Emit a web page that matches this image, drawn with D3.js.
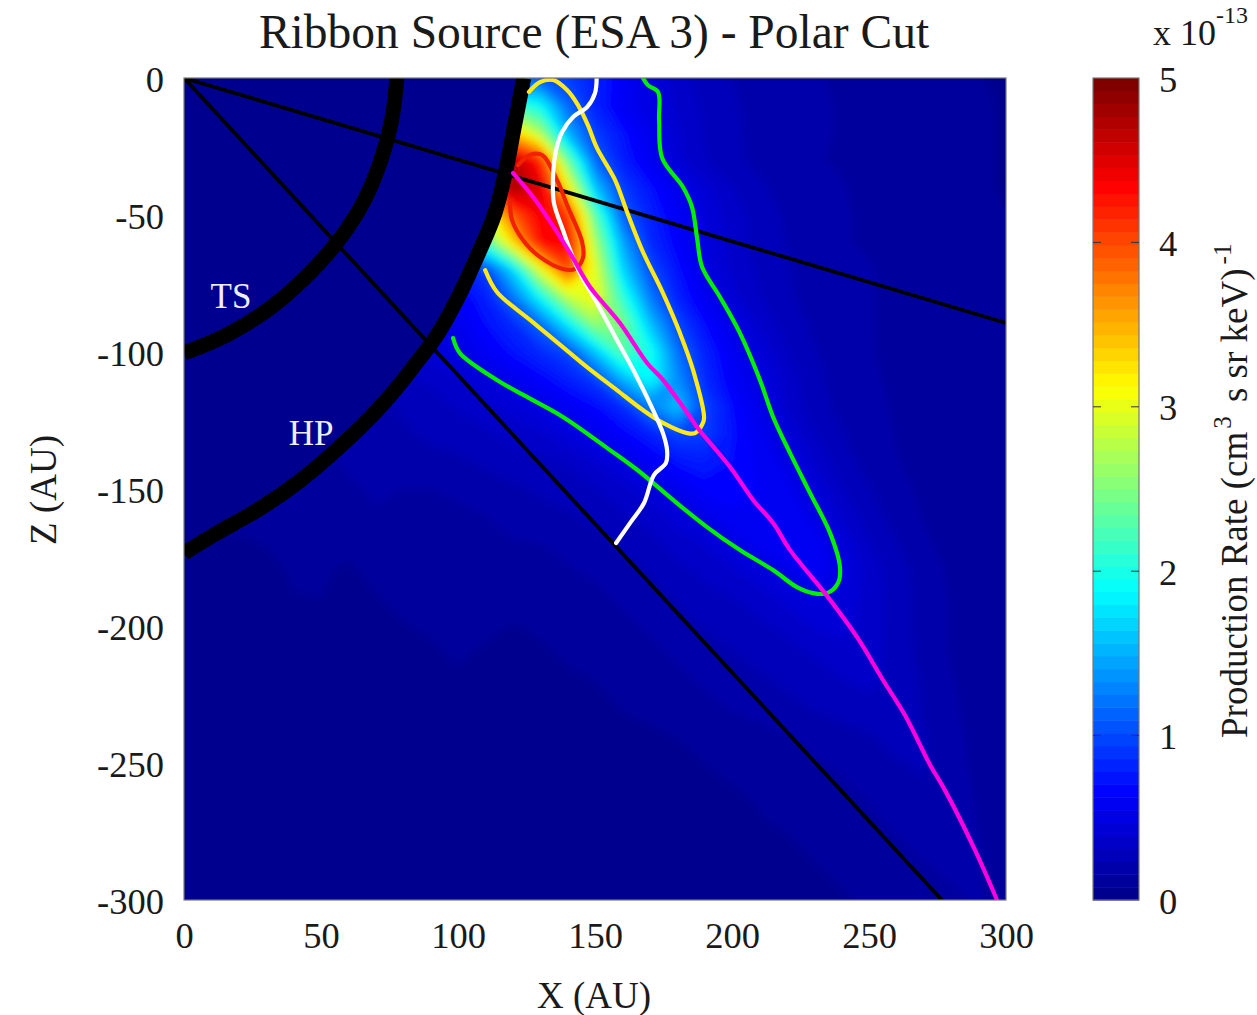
<!DOCTYPE html>
<meta charset="utf-8">
<html>
  <head>
    <title>Ribbon Source (ESA 3) - Polar Cut</title>
    <style>
      html, body { margin: 0; padding: 0; background: white; }
      svg { display: block; }
      text { font-family: "Liberation Serif", serif; fill: #1a1a1a; }
      .axis path, .axis line { display: none; }
      .axis text { font-size: 36.5px; font-family: "Liberation Serif", serif; fill: #1a1a1a; }
      .frame { fill: none; stroke: #777; stroke-width: 1.2px; }
      .trace { fill: none; stroke-linejoin: round; stroke-linecap: round; stroke-width: 4.2px; }
      .boundary { fill: none; stroke: black; stroke-width: 15px; }
      .ray { stroke: black; stroke-width: 3.8px; }
    </style>
  </head>
<body>
  <svg width="1257" height="1015"></svg>
  <script src="https://cdn.jsdelivr.net/npm/d3@7"></script>
  <script>

  // tick labels
  var xTicks = [0, 50, 100, 150, 200, 250, 300];
  var zTicks = [0, -50, -100, -150, -200, -250, -300];
  var barTicks = [0, 1, 2, 3, 4, 5];

  // production rate in 1e-13. rows z = 0,-10..-300, columns x = 0,10..300
  // (cells behind the HP are clipped away, they only hold values close to the edge)
  var prodRate = [
    [0,0,0,0,0,0,0,0,0,0,0, .5,1,1.05,.95,.8,.62,.47,.35,.28, .23,.2,.18,.16,.15,.14,.12,.11,.1,.08,.07],
    [0,0,0,0,0,0,0,0,0,0,0, .9,2.2,1.9,1.15,.8,.6,.5,.38,.3, .25,.2,.18,.17,.15,.14,.13,.12,.1,.09,.07],
    [0,0,0,0,0,0,0,0,0,0,.5, 2,3.4,2.7,1.5,.95,.72,.55,.4,.31, .25,.21,.18,.17,.15,.14,.13,.12,.1,.09,.07],
    [0,0,0,0,0,0,0,0,0,0,1, 3.5,4.7,4.2,2.4,1.15,.78,.58,.42,.32, .26,.21,.18,.16,.15,.14,.13,.12,.1,.09,.07],
    [0,0,0,0,0,0,0,0,0,.5,2.5, 4,4.8,4.5,3.2,1.6,.95,.72,.55,.42, .32,.25,.2,.17,.16,.14,.13,.12,.1,.09,.07],
    [0,0,0,0,0,0,0,0,0,1,2.2, 2.9,3.9,4.4,4.1,2.3,1.1,.8,.6,.46, .35,.28,.22,.18,.16,.15,.14,.12,.11,.09,.08],
    [0,0,0,0,0,0,0,0,.5,1.5,2, 2.2,3.3,4.3,4.4,2.7,1.45,.85,.65,.48, .36,.28,.23,.19,.16,.15,.14,.12,.11,.09,.08],
    [0,0,0,0,0,0,0,.3,.6,.7,.8, .95,1.7,3,4,3,1.7,1.03,.72,.5, .38,.3,.24,.2,.17,.16,.14,.13,.11,.09,.08],
    [0,0,0,0,0,0,.2,.35,.5,.55,.62, .78,1.2,1.9,2.8,3.1,2.1,1.25,.8,.58, .42,.32,.25,.2,.17,.16,.14,.13,.11,.09,.08],
    [0,0,0,0,0,0,.2,.3,.42,.47,.55, .7,.85,1.15,1.8,2.6,2.5,1.6,1,.7, .52,.38,.28,.22,.18,.16,.14,.13,.11,.09,.08],
    [0,0,0,0,0,0,.2,.28,.36,.42,.5, .6,.72,.85,1,1.6,2.3,2,1.2,.8, .58,.45,.32,.24,.19,.16,.14,.13,.11,.09,.08],
    [0,0,0,0,0,.15,.18,.25,.3,.33,.38, .45,.55,.65,.78,.95,1.5,1.9,1.35,.85, .62,.5,.36,.26,.2,.17,.14,.13,.11,.09,.08],
    [0,0,0,0,.12,.15,.17,.2,.25,.28,.32, .37,.42,.5,.58,.68,.85,1.25,1.6,.98, .7,.53,.38,.27,.21,.17,.15,.13,.11,.09,.08],
    [0,0,0,.1,.12,.14,.17,.19,.22,.25,.27, .3,.34,.38,.46,.55,.65,.78,.98,.95, .72,.58,.45,.32,.24,.19,.15,.13,.11,.09,.08],
    [0,0,.1,.1,.11,.13,.17,.18,.2,.21,.22, .25,.28,.3,.32,.4,.5,.6,.72,.78, .7,.6,.52,.38,.27,.2,.16,.13,.12,.1,.08],
    [0,.09,.1,.1,.11,.12,.145,.165,.155,.155,.165, .19,.22,.25,.28,.31,.36,.45,.55,.65, .68,.62,.57,.45,.32,.24,.18,.14,.12,.1,.08],
    [.08,.09,.09,.1,.105,.11,.125,.15,.14,.14,.145, .155,.18,.2,.22,.26,.3,.35,.43,.52, .6,.62,.6,.52,.38,.28,.2,.15,.13,.1,.08],
    [.06,.07,.07,.08,.095,.1,.09,.12,.125,.13,.13, .14,.15,.155,.17,.2,.25,.29,.35,.4, .5,.58,.62,.6,.45,.32,.24,.17,.13,.1,.08],
    [.05,.06,.06,.06,.085,.085,.07,.09,.105,.115,.12, .125,.13,.14,.15,.165,.2,.24,.29,.33, .38,.45,.53,.6,.5,.36,.27,.2,.14,.11,.08],
    [.04,.05,.05,.05,.075,.078,.065,.075,.09,.1,.105, .11,.115,.12,.13,.14,.165,.2,.24,.29, .31,.35,.42,.48,.45,.36,.28,.2,.15,.11,.08],
    [.04,.04,.04,.04,.05,.06,.055,.065,.075,.085,.095, .09,.075,.085,.1,.115,.14,.165,.2,.24, .28,.3,.33,.4,.42,.36,.28,.2,.15,.11,.08],
    [.03,.03,.03,.03,.04,.05,.05,.055,.06,.07,.085, .07,.065,.07,.085,.095,.115,.135,.165,.2, .23,.26,.29,.32,.36,.35,.28,.21,.15,.11,.08],
    [.03,.03,.03,.03,.03,.04,.04,.045,.05,.06,.07, .065,.06,.06,.07,.078,.095,.11,.135,.165, .19,.22,.25,.28,.31,.33,.29,.22,.16,.12,.08],
    [.02,.02,.02,.02,.02,.02,.03,.03,.04,.05,.05, .05,.05,.05,.06,.065,.08,.09,.11,.135, .16,.18,.21,.24,.27,.29,.3,.23,.17,.12,.08],
    [.02,.02,.02,.02,.02,.02,.03,.03,.03,.04,.04, .04,.04,.05,.055,.06,.065,.07,.08,.09, .11,.13,.15,.18,.2,.23,.26,.24,.18,.13,.08],
    [.02,.02,.02,.02,.02,.02,.03,.03,.03,.03,.03, .03,.03,.03,.03,.04,.05,.055,.065,.078, .09,.105,.125,.145,.17,.2,.23,.24,.19,.13,.09],
    [.02,.02,.02,.02,.02,.02,.02,.03,.03,.03,.03, .03,.03,.03,.03,.03,.04,.04,.05,.06, .075,.085,.105,.125,.14,.165,.2,.23,.2,.14,.09],
    [.02,.02,.02,.02,.02,.02,.02,.02,.02,.02,.02, .02,.02,.03,.03,.03,.03,.04,.04,.05, .06,.075,.09,.105,.125,.145,.17,.2,.2,.15,.1],
    [.01,.01,.01,.01,.01,.01,.01,.01,.01,.01,.01, .02,.02,.02,.02,.02,.03,.03,.03,.04, .05,.06,.07,.09,.105,.125,.145,.17,.19,.16,.11],
    [.01,.01,.01,.01,.01,.01,.01,.01,.01,.01,.01, .02,.02,.02,.02,.02,.02,.03,.03,.03, .04,.05,.06,.07,.09,.105,.125,.145,.165,.16,.12],
    [.01,.01,.01,.01,.01,.01,.01,.01,.01,.01,.01, .01,.01,.01,.01,.01,.02,.02,.03,.03, .03,.04,.05,.06,.07,.09,.105,.125,.145,.16,.13]
  ];

  // all curves are [x, z] in AU
  var tsCurve = [[0,-100.4],[15.6,-93.8],[31.4,-84],[43.4,-73.7],[55.7,-60.2],[65.3,-45.6],[71.5,-31],[75.8,-15.3],[77.7,0]];
  var hpCurve = [[0,-173.4],[12,-166.1],[28,-157],[42.7,-146.7],[58.4,-133.2],[68.2,-123.7],[77.7,-113.1],[86.5,-101.8],[92.4,-93.8],[99.6,-81],[108,-62.8],[113.5,-49.3],[117.5,-33.6],[120.5,-18],[124,0]];
  var rayUpper = [[0,0],[300,-89.4]];
  var rayLower = [[0,0],[276.6,-300]];

  var greenContour = [[167.5,0],[169.3,-2.6],[173,-5.1],[173.4,-15.3],[174.5,-29.2],[182.1,-39.8],[185.4,-47.1],[187.2,-58],[189.1,-69],[195.6,-79.9],[202.9,-93.1],[210.2,-110.2],[215,-123.7],[221.2,-136.9],[228.5,-151.5],[235.8,-166.1],[239.4,-178.5],[238.7,-184.3],[234.7,-188],[229.6,-188],[223.7,-185.8],[215,-179.6],[202.9,-172.3],[190.9,-163.9],[178.5,-154],[166.4,-143.8],[155.5,-135.8],[138.3,-123.7],[125.2,-116.4],[114.2,-110.2],[100.7,-100.4],[98.2,-94.9]];
  var yellowContour = [[125.9,-5.1],[129.9,-1.5],[134.7,-0.7],[139.8,-4.4],[143.8,-9.9],[147.4,-17.2],[150.7,-25.5],[157.3,-37.2],[161.7,-48.9],[167.5,-63.5],[174.8,-78.5],[181,-93.1],[185.8,-106.6],[189.8,-123.7],[189.4,-125.9],[186.5,-129.6],[183.6,-129.6],[174.8,-125.9],[167.5,-121.2],[158,-113.9],[147.1,-105.5],[138.3,-98.2],[126.3,-88.3],[114.2,-78.1],[109.9,-70.1]];
  var redContour = [[119,-45.3],[119.7,-51.8],[123.7,-59.1],[129.9,-65.3],[138.3,-69.7],[142.7,-69.7],[145.6,-65.7],[145.3,-59.9],[140.1,-47.1],[136.1,-37.2],[130.7,-28.1],[126.3,-28.1],[121.9,-31.8]];
  var whiteTrace = [[150.6,0],[150,-5.5],[147.1,-10.6],[142,-14.2],[138,-19.7],[135.8,-26.3],[134.7,-36.1],[135,-45.6],[138.3,-55.5],[143.4,-69],[150.7,-82.1],[158,-95.6],[165.3,-109.1],[171.2,-121.2],[174.8,-129.6],[176.3,-135.8],[175.9,-140.5],[171.5,-144.9],[167.9,-155.1],[163.1,-162],[157.7,-169.7]];
  var magentaTrace = [[120.1,-34.7],[126.3,-42],[132.5,-50.7],[140.9,-63.9],[148.2,-76.3],[159.1,-89.4],[169,-104],[174.8,-110.2],[184.7,-123.7],[187.2,-127.4],[199.3,-142],[207.7,-154],[215,-162.4],[221.2,-172.3],[233.9,-188],[245.6,-204],[255.1,-219.7],[263.1,-232.5],[272.3,-250.7],[277.7,-259.9],[288.7,-281.8],[296.7,-300]];

  var svg = d3.select("svg");

  var x = d3.scaleLinear().domain([0, 300]).range([184, 1006]);
  var z = d3.scaleLinear().domain([0, -300]).range([78, 900]);
  var barY = d3.scaleLinear().domain([0, 5]).range([900, 78]);

  // jet, 64 levels like the colorbar
  var jet = d3.scaleLinear()
      .domain([0, 1/8, 3/8, 5/8, 7/8, 1])
      .range(["#00008f", "#0000ff", "#00ffff", "#ffff00", "#ff0000", "#800000"]);
  var levels = d3.range(64);
  var levelStep = 5 / 64;

  var defs = svg.append("defs");
  defs.append("clipPath").attr("id", "plot-clip")
    .append("rect")
      .attr("x", x(0)).attr("y", z(0))
      .attr("width", x(300) - x(0)).attr("height", z(-300) - z(0));

  var smooth = d3.line().x(function(d) { return x(d[0]); }).y(function(d) { return z(d[1]); })
      .curve(d3.curveCatmullRom.alpha(0.5));
  var straight = d3.line().x(function(d) { return x(d[0]); }).y(function(d) { return z(d[1]); });

  // the heliosphere side of the HP stays navy, so cut the field along the curve
  defs.append("clipPath").attr("id", "hp-clip")
    .append("path")
      .attr("d", smooth(hpCurve) + "L" + x(300) + "," + z(0) + "L" + x(300) + "," + z(-300) + "L" + x(0) + "," + z(-300) + "Z");

  var blur = defs.append("filter").attr("id", "soften")
      .attr("filterUnits", "userSpaceOnUse")
      .attr("x", 100).attr("y", 0).attr("width", 1000).attr("height", 1000);
  blur.append("feGaussianBlur").attr("stdDeviation", 4);

  var lineBlur = defs.append("filter").attr("id", "soften-line")
      .attr("filterUnits", "userSpaceOnUse")
      .attr("x", 100).attr("y", 0).attr("width", 1000).attr("height", 1000);
  lineBlur.append("feGaussianBlur").attr("stdDeviation", 0.6);

  svg.append("rect")
      .attr("x", x(0)).attr("y", z(0))
      .attr("width", x(300) - x(0)).attr("height", z(-300) - z(0))
      .attr("fill", jet(0));

  // pad the grid by one clamped cell so the blur has something to eat at the edges
  var nx = prodRate[0].length, nz = prodRate.length;
  var padded = [];
  for (var j = -1; j <= nz; j++) {
    for (var i = -1; i <= nx; i++) {
      padded.push(prodRate[Math.max(0, Math.min(nz - 1, j))][Math.max(0, Math.min(nx - 1, i))]);
    }
  }

  var contours = d3.contours()
      .size([nx + 2, nz + 2])
      .thresholds(levels.map(function(k) { return k * levelStep; }))(padded);

  var gridPath = d3.geoPath(d3.geoTransform({
    point: function(cx, cy) {
      this.stream.point(x((cx - 1.5) * 10), z(-(cy - 1.5) * 10));
    }
  }));

  svg.append("g").attr("clip-path", "url(#plot-clip)")
    .append("g").attr("clip-path", "url(#hp-clip)")
    .append("g").attr("filter", "url(#soften)")
    .selectAll("path")
    .data(contours)
    .enter().append("path")
      .attr("d", gridPath)
      .attr("fill", function(d, k) { return jet(k / 63); });

  var overlay = svg.append("g").attr("clip-path", "url(#plot-clip)")
    .append("g").attr("filter", "url(#soften-line)");

  overlay.selectAll(".ray")
    .data([rayUpper, rayLower])
    .enter().append("path")
      .attr("class", "ray")
      .attr("d", straight);

  overlay.selectAll(".boundary")
    .data([tsCurve, hpCurve])
    .enter().append("path")
      .attr("class", "boundary")
      .attr("d", smooth);

  var traces = [
    { pts: greenContour, color: "#00f000" },
    { pts: yellowContour, color: "#ffe81a" },
    { pts: redContour, color: "#f02000" },
    { pts: whiteTrace, color: "#ffffff" },
    { pts: magentaTrace, color: "#ff00e0" }
  ];
  overlay.selectAll(".trace")
    .data(traces)
    .enter().append("path")
      .attr("class", "trace")
      .attr("stroke", function(d) { return d.color; })
      .attr("d", function(d) { return smooth(d.pts); });

  svg.append("text").attr("x", 231).attr("y", 308).attr("text-anchor", "middle")
      .style("font-size", "35px").style("fill", "#eef").text("TS");
  svg.append("text").attr("x", 311).attr("y", 445).attr("text-anchor", "middle")
      .style("font-size", "35px").style("fill", "#eef").text("HP");

  svg.append("rect").attr("class", "frame")
      .attr("x", x(0)).attr("y", z(0))
      .attr("width", x(300) - x(0)).attr("height", z(-300) - z(0));

  // axes, labels keep the plain hyphen of the original
  svg.append("g").attr("class", "axis")
      .attr("transform", "translate(0," + z(-300) + ")")
      .call(d3.axisBottom(x).tickValues(xTicks).tickFormat(String).tickSize(0).tickPadding(22));
  svg.append("g").attr("class", "axis")
      .attr("transform", "translate(" + x(0) + ",1.5)")
      .call(d3.axisLeft(z).tickValues(zTicks).tickFormat(String).tickSize(0).tickPadding(20));

  svg.append("text").attr("x", 594).attr("y", 48).attr("text-anchor", "middle")
      .style("font-size", "47.5px").text("Ribbon Source (ESA 3) - Polar Cut");
  svg.append("text").attr("x", 594).attr("y", 1008).attr("text-anchor", "middle")
      .style("font-size", "37px").text("X (AU)");
  svg.append("text").attr("transform", "translate(56,490) rotate(-90)").attr("text-anchor", "middle")
      .style("font-size", "37px").text("Z (AU)");

  // colorbar
  var bar = svg.append("g");
  bar.selectAll("rect")
    .data(levels)
    .enter().append("rect")
      .attr("x", 1093).attr("width", 46)
      .attr("y", function(k) { return barY((k + 1) * levelStep); })
      .attr("height", function(k) { return barY(k * levelStep) - barY((k + 1) * levelStep) + 0.5; })
      .attr("fill", function(k) { return jet(k / 63); });
  bar.append("rect").attr("class", "frame")
      .attr("x", 1093).attr("y", barY(5)).attr("width", 46).attr("height", barY(0) - barY(5));

  var barTickRows = bar.selectAll(".bar-tick")
    .data(barTicks.slice(1, 5))
    .enter().append("g").attr("class", "bar-tick");
  barTickRows.append("line").attr("x1", 1093).attr("x2", 1101)
      .attr("y1", barY).attr("y2", barY).attr("stroke", "#333");
  barTickRows.append("line").attr("x1", 1131).attr("x2", 1139)
      .attr("y1", barY).attr("y2", barY).attr("stroke", "#333");

  svg.append("g").attr("class", "axis")
      .attr("transform", "translate(1139,1.5)")
      .call(d3.axisRight(barY).tickValues(barTicks).tickFormat(String).tickSize(0).tickPadding(20));

  var expo = svg.append("text").attr("x", 1153).attr("y", 45).style("font-size", "36px");
  expo.append("tspan").text("x 10");
  expo.append("tspan").attr("dy", -22).style("font-size", "24px").text("-13");

  var barLabel = svg.append("text").attr("transform", "translate(1247,738) rotate(-90)")
      .style("font-size", "37px");
  barLabel.append("tspan").text("Production Rate (cm");
  barLabel.append("tspan").attr("dy", -16).attr("dx", 3).style("font-size", "25px").text("3");
  barLabel.append("tspan").attr("dy", 16).attr("dx", 5).text(" s sr keV)");
  barLabel.append("tspan").attr("dy", -16).attr("dx", 4).style("font-size", "25px").text("-1");

  </script>
</body>
</html>
